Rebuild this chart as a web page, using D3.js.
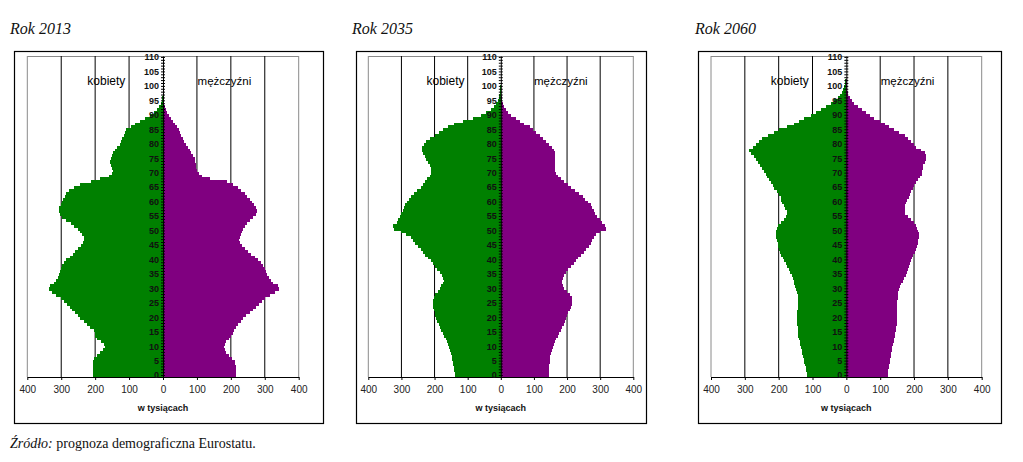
<!DOCTYPE html>
<html><head><meta charset="utf-8">
<script src="https://cdn.jsdelivr.net/npm/d3@7"></script>
<style>body{margin:0;background:#fff}</style>
</head><body>
<script>
// ---- data (thousands of people, by single year of age) ----
const ages = d3.range(0, 111);
const xTickValues = [-400, -300, -200, -100, 0, 100, 200, 300, 400];
const titles = ["Rok 2013", "Rok 2035", "Rok 2060"];
const labelWomen = "kobiety";
const labelMen = "mężczyźni";
const axisTitle = "w tysiącach";

const women2013 = [206,207,207,206,205,206,204,196,187,178,172,175,184,195,199,201,204,214,224,234,244,251,259,267,275,282,291,300,314,328,336,333,320,314,310,307,304,301,297,292,285,275,265,258,250,241,236,232,234,240,246,252,261,271,285,299,305,307,306,302,298,295,290,285,276,262,245,212,185,160,150,147,150,154,155,153,150,147,142,135,128,123,120,116,112,108,95,82,68,52,38,28,19,12,7,4,2,1,0.6,0.4,0.3];
const men2013 = [214,215,215,214,213,212,203,194,187,182,180,182,187,194,200,205,209,215,221,229,236,245,255,265,274,284,292,301,314,329,343,339,325,317,312,307,304,300,295,288,280,270,260,250,241,232,226,224,226,229,233,237,241,247,256,266,274,277,275,268,262,255,249,241,231,220,205,188,140,114,106,101,98,96,95,93,88,84,79,74,69,63,58,54,50,46,41,36,30,24,18,13,9,6,4,2.5,1.5,1,0.5,0.3,0.2];
const women2035 = [138,138,140,142,144,145,147,148,150,152,155,158,162,166,170,175,180,184,188,192,195,198,200,202,204,205,205,203,198,190,185,180,175,172,174,178,185,192,198,205,212,220,228,235,242,250,258,266,272,285,300,323,326,314,309,305,301,296,293,289,283,276,270,262,253,242,235,228,222,215,210,210,212,215,220,225,230,235,238,237,232,225,215,200,188,175,160,140,115,85,59,44,31,21,14,9,6,4,3,2,1];
const men2035 = [144,144,145,146,147,148,149,150,152,154,157,160,164,168,172,177,182,186,190,194,197,200,204,208,212,214,216,215,210,200,192,187,184,184,187,192,197,204,212,220,227,234,242,250,257,265,271,276,281,288,298,318,315,305,298,291,285,281,276,271,263,255,247,237,224,212,202,192,182,174,167,165,164,164,164,164,164,165,162,154,147,137,127,117,107,97,87,71,59,46,31,23,16,11,7,4,3,2,1,0.5,0.3];
const women2060 = [115,116,118,120,122,124,126,128,130,132,134,136,138,140,142,143,144,144,145,145,146,146,145,144,144,144,144,144,144,146,149,152,154,156,159,162,166,169,174,179,184,188,192,196,198,201,203,205,207,208,208,205,201,193,185,179,174,176,182,185,189,192,193,198,205,213,218,223,228,234,238,244,250,256,262,268,272,282,287,277,268,258,248,233,213,198,174,154,139,124,105,90,75,60,45,36,26,19,14,10,6,4,3,2,1,0.5];
const men2060 = [122,123,124,125,126,128,130,131,132,134,136,138,140,142,144,145,147,148,149,150,150,150,150,150,150,150,151,152,153,154,156,159,162,166,170,175,179,182,185,189,192,195,198,202,206,209,211,213,214,214,211,209,206,199,192,182,174,172,172,174,177,180,184,187,192,196,201,206,213,219,223,225,226,226,231,236,236,231,221,206,201,192,182,172,157,142,127,113,98,83,71,58,45,34,24,16,10,6,4,2,1,0.8,0.5,0.3,0.2,0.1];

const womenSeries = [women2013, women2035, women2060];
const menSeries = [men2013, men2035, men2060];

// ---- layout ----
const W = 1023, H = 462;
const panels = [
  {box:[14,323], plot:[27.3,298.7], titleX:10},
  {box:[356,646], plot:[368.3,633.3], titleX:352},
  {box:[698,1001], plot:[711,981.7], titleX:695}
];
const boxTop = 51, boxBottom = 423, plotTop = 56, plotBottom = 377;
const GREEN = "#008000", PURPLE = "#800080";

const svg = d3.select("body").append("svg").attr("width", W).attr("height", H)
  .style("font-family", "Arial, 'Liberation Sans', sans-serif");

const y = d3.scaleBand().domain(ages).range([plotBottom, plotTop]).padding(0);

panels.forEach((p, i) => {
  const x = d3.scaleLinear().domain([-400, 400]).range(p.plot);
  const g = svg.append("g");

  // title
  svg.append("text").attr("x", p.titleX).attr("y", 34)
    .style("font-family", "'Liberation Serif', 'Times New Roman', serif")
    .style("font-style", "italic").style("font-size", "16px").attr("fill", "#111")
    .text(titles[i]);

  // outer frame
  g.append("rect").attr("x", p.box[0] + 0.5).attr("y", boxTop + 0.5)
    .attr("width", p.box[1] - p.box[0]).attr("height", boxBottom - boxTop)
    .attr("fill", "none").attr("stroke", "#000").attr("stroke-width", 1.2);

  // plot area top / side lines (grey)
  g.append("line").attr("x1", x(-400)).attr("x2", x(400)).attr("y1", plotTop + 0.5).attr("y2", plotTop + 0.5)
    .attr("stroke", "#8a8a8a");
  [-400, 400].forEach(v => g.append("line").attr("x1", x(v)).attr("x2", x(v))
    .attr("y1", plotTop).attr("y2", plotBottom).attr("stroke", "#8a8a8a"));
  // gridlines
  [-300, -200, -100, 100, 200, 300].forEach(v => g.append("line").attr("x1", x(v)).attr("x2", x(v))
    .attr("y1", plotTop).attr("y2", plotBottom).attr("stroke", "#000"));

  // bars
  const women = womenSeries[i], men = menSeries[i];
  g.append("g").attr("shape-rendering", "crispEdges").selectAll("rect").data(women.map((v, a) => ({a, v}))).join("rect")
    .attr("x", d => x(-d.v)).attr("width", d => x(0) - x(-d.v))
    .attr("y", d => y(d.a)).attr("height", y.bandwidth() + 1).attr("fill", GREEN);
  g.append("g").attr("shape-rendering", "crispEdges").selectAll("rect").data(men.map((v, a) => ({a, v}))).join("rect")
    .attr("x", x(0)).attr("width", d => x(d.v) - x(0))
    .attr("y", d => y(d.a)).attr("height", y.bandwidth() + 1).attr("fill", PURPLE);

  // x axis
  const xa = g.append("g").attr("transform", `translate(0,${plotBottom})`)
    .call(d3.axisBottom(x).tickValues(xTickValues).tickFormat(d => Math.abs(d)).tickSize(3).tickSizeOuter(0));
  xa.select(".domain").attr("stroke", "#000");
  xa.selectAll("text").style("font-size", "10px").attr("fill", "#222").attr("dy", "0.95em");

  // y axis with a tick on every age
  const ya = g.append("g").attr("transform", `translate(${x(0)},0)`)
    .call(d3.axisLeft(y).tickValues(ages).tickSize(2).tickFormat(d => (d % 5 === 0 ? d : "")).tickPadding(2).tickSizeOuter(0));
  ya.select(".domain").attr("stroke", "#000");
  ya.selectAll("text").style("font-size", "9px").style("font-weight", "bold").attr("fill", "#111");
  const yb = g.append("g").attr("transform", `translate(${x(0)},0)`)
    .call(d3.axisRight(y).tickValues(ages).tickSize(2).tickFormat("").tickSizeOuter(0));
  yb.select(".domain").remove();

  // labels
  const ly = y(100) + y.bandwidth() / 2 - 1;
  g.append("text").attr("x", x(-167)).attr("y", ly).attr("text-anchor", "middle")
    .style("font-size", "12px").attr("fill", "#000").text(labelWomen);
  g.append("text").attr("x", x(181)).attr("y", ly).attr("text-anchor", "middle")
    .style("font-size", "11.5px").attr("fill", "#000").text(labelMen);
  g.append("text").attr("x", x(0)).attr("y", 411).attr("text-anchor", "middle")
    .style("font-size", "9px").style("font-weight", "bold").attr("fill", "#111").text(axisTitle);
});

// source note
const note = svg.append("text").attr("x", 10).attr("y", 448)
  .style("font-family", "'Liberation Serif', 'Times New Roman', serif").style("font-size", "14px").attr("fill", "#111");
note.append("tspan").style("font-style", "italic").text("Źródło:");
note.append("tspan").text(" prognoza demograficzna Eurostatu.");
</script>
</body></html>
